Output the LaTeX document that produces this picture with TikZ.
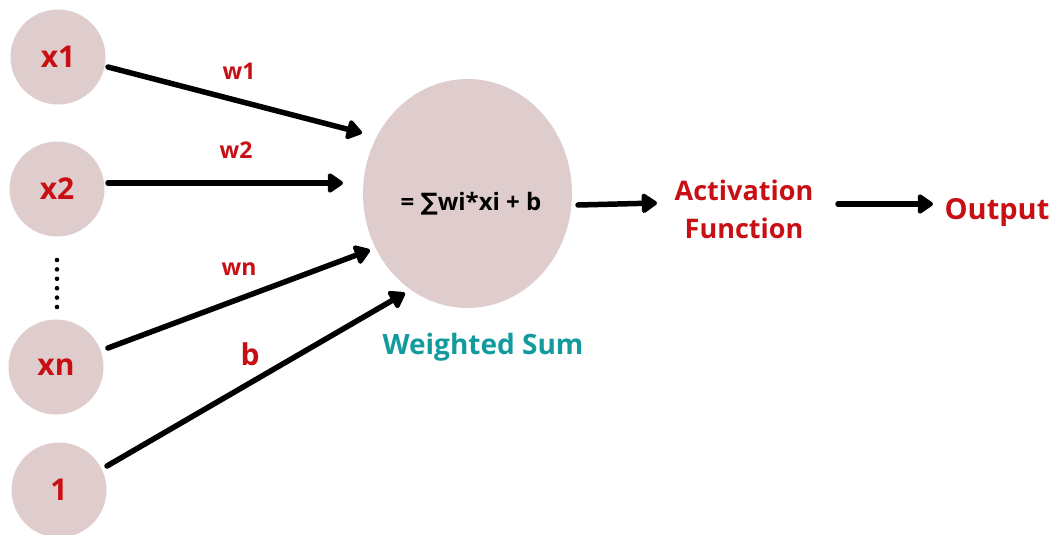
\documentclass[tikz,border=0pt]{standalone}
\usepackage{fontspec}
\setmainfont{Open Sans}
\newfontfamily\djv{DejaVu Sans}
\usetikzlibrary{arrows.meta,shapes.geometric}
\definecolor{nodefill}{HTML}{DFCDCD}
\definecolor{lblred}{HTML}{C80F14}
\definecolor{teal2}{HTML}{139A9C}
\tikzset{
  inp/.style={circle, fill=nodefill, minimum size=95pt, inner sep=0pt, text=lblred, font=\fontsize{30}{32}\selectfont\bfseries},
  wlbl/.style={text=lblred, font=\fontsize{23}{25}\selectfont\bfseries, inner sep=0pt},
  arr/.style={line width=5.5pt, line cap=round, -{Triangle[length=17pt,width=22pt,round]}},
}
\begin{document}
\begin{tikzpicture}[x=1pt,y=-1pt]
\useasboundingbox (0,0) rectangle (1058,535);
\node[inp] (x1) at (58,57) {x1};
\node[inp] (x2) at (57,189) {x2};
\node[inp] (xn) at (56,367) {xn};
\node[inp] (one) at (59,490) {1};
\node[ellipse, fill=nodefill, minimum width=209pt, minimum height=229pt, inner sep=0pt] (sum) at (467.5,193.5) {};
\node[font=\fontsize{24}{26}\selectfont\bfseries, inner sep=0pt] (eq) at (471,204) {= {\djv\bfseries ∑}wi*xi + b};
\node[text=teal2, font=\fontsize{28}{30}\selectfont\bfseries, inner sep=0pt] (ws) at (483,347) {Weighted Sum};
\node[text=lblred, font=\fontsize{27}{38}\selectfont\bfseries, align=center, inner sep=0pt] (act) at (744,209) {Activation\\Function};
\node[text=lblred, font=\fontsize{29}{31}\selectfont\bfseries, inner sep=0pt] (out) at (997,212) {Output};
\foreach \i in {0,...,5} \fill (57,260+9.4*\i) circle (2.3pt);
\coordinate (e1) at (362,133);
\coordinate (e2) at (343,183);
\coordinate (en) at (370,250);
\coordinate (eb) at (405,293);
\coordinate (s1) at (108,67);
\coordinate (s2) at (108,183);
\coordinate (sn) at (108,348);
\coordinate (sb) at (107,466);
\draw[arr] (s1) -- (e1);
\draw[arr] (s2) -- (e2);
\draw[arr] (sn) -- (en);
\draw[arr] (sb) -- (eb);
\coordinate (a1) at (578,205);
\coordinate (a2) at (657,203);
\coordinate (o1) at (838,204);
\coordinate (o2) at (933,204);
\draw[arr] (a1) -- (a2);
\draw[arr] (o1) -- (o2);
\node[wlbl] (w1) at (239,71) {w1};
\node[wlbl] (w2) at (236,150) {w2};
\node[wlbl] (wn) at (239,269) {wn};
\node[text=lblred, font=\fontsize{30}{32}\selectfont\bfseries, inner sep=0pt] (bl) at (250,354) {b};
\end{tikzpicture}
\end{document}
